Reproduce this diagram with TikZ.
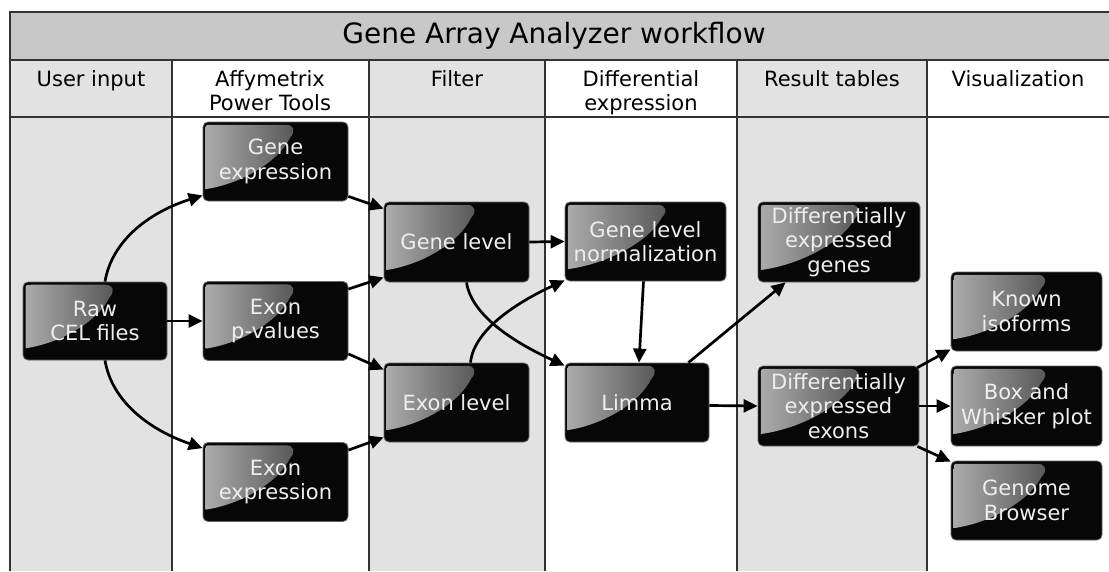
\documentclass[tikz,border=0pt]{standalone}
\usepackage{fontspec}
\setmainfont{DejaVu Sans}
\usetikzlibrary{arrows.meta,calc}
\definecolor{hdr}{HTML}{C8C8C8}
\definecolor{colg}{HTML}{E2E2E2}
\definecolor{frm}{HTML}{333333}
\definecolor{boxfill}{HTML}{070707}
\definecolor{boxtext}{HTML}{EEEEEE}
\newcommand\gp[2]{($(pn)!#1!(pe)+(pn)!#2!(ps)-(pn)$)}
\tikzset{
  frame/.style={draw=frm, line width=1.4pt},
  stepbox/.style={draw=black!60, line width=0.8pt, fill=boxfill, rounded corners=5pt,
    text=boxtext, font=\fontsize{21}{24.5}\selectfont, align=center, inner sep=0pt,
    path picture={
      \coordinate (pn) at (path picture bounding box.north west);
      \coordinate (pe) at (path picture bounding box.north east);
      \coordinate (ps) at (path picture bounding box.south west);
      \shade[sharp corners, left color=black!33, right color=black!66]
        \gp{0.018}{0.85} -- \gp{0.018}{0.1}
        .. controls \gp{0.018}{0.035} .. \gp{0.06}{0.035}
        -- \gp{0.57}{0.035}
        .. controls \gp{0.63}{0.035} and \gp{0.64}{0.12} .. \gp{0.6}{0.2}
        .. controls \gp{0.52}{0.5} and \gp{0.27}{0.78} .. \gp{0.018}{0.85}
        -- cycle;
    }},
  colhead/.style={anchor=north, inner sep=0pt, align=center, font=\fontsize{21}{24.5}\selectfont, text=black},
  arr/.style={-{Triangle[length=14pt,width=13pt]}, line width=2.7pt, draw=black}
}
\begin{document}
\begin{tikzpicture}[x=1pt,y=-1pt]
\useasboundingbox (0,0) rectangle (1109,571);
% background
\fill[colg] (10,60) rectangle (172,571);
\fill[colg] (369,60) rectangle (545,571);
\fill[colg] (737,60) rectangle (927,571);
\fill[hdr] (10,12) rectangle (1109,60);
\draw[frame] (1109,12) -- (10,12) -- (10,571);
\draw[frame] (10,60) -- (1109,60);
\draw[frame] (10,117) -- (1109,117);
\foreach \x in {172,369,545,737,927} \draw[frame] (\x,60) -- (\x,571);
% title and headers
\node[inner sep=0pt, font=\fontsize{28}{32}\selectfont] (title) at (554,36) {Gene Array Analyzer workflow};
\node[colhead] (h1) at (91,70) {User input};
\node[colhead] (h2) at (270,70) {Affymetrix\\Power Tools};
\node[colhead] (h3) at (457,70) {Filter};
\node[colhead] (h4) at (641,70) {Differential\\expression};
\node[colhead] (h5) at (832,70) {Result tables};
\node[colhead] (h6) at (1018,70) {Visualization};
% boxes
\node[stepbox, minimum width=144pt, minimum height=78pt] (raw) at (95,321) {Raw\\CEL files};
\node[stepbox, minimum width=145pt, minimum height=79pt] (gexp) at (275.5,161.5) {Gene\\expression};
\node[stepbox, minimum width=145pt, minimum height=79pt] (pval) at (275.5,321) {Exon\\p-values};
\node[stepbox, minimum width=145pt, minimum height=79pt] (eexp) at (275.5,482) {Exon\\expression};
\node[stepbox, minimum width=145pt, minimum height=80pt] (glev) at (456.5,242) {Gene level};
\node[stepbox, minimum width=145pt, minimum height=79pt] (elev) at (456.5,402.5) {Exon level};
\node[stepbox, minimum width=161pt, minimum height=79pt] (gnorm) at (645.5,241.5) {Gene level\\normalization};
\node[stepbox, minimum width=144pt, minimum height=79pt] (limma) at (637,402.5) {Limma};
\node[stepbox, minimum width=162pt, minimum height=80pt] (dgenes) at (839,242) {Differentially\\expressed\\genes};
\node[stepbox, minimum width=161pt, minimum height=80pt] (dexons) at (838.5,406) {Differentially\\expressed\\exons};
\node[stepbox, minimum width=151pt, minimum height=79pt] (known) at (1026.5,311.5) {Known\\isoforms};
\node[stepbox, minimum width=151pt, minimum height=80pt] (boxw) at (1026.5,406) {Box and\\Whisker plot};
\node[stepbox, minimum width=151pt, minimum height=79pt] (genome) at (1026.5,500.5) {Genome\\Browser};
% connectors
\draw[arr] ($(raw.north)+(10,0)$) .. controls (112,240) and (150,212) .. ($(gexp.south west)+(0,-6)$);
\draw[arr] (raw.east) -- (pval.west);
\draw[arr] ($(raw.south)+(10,0)$) .. controls (112,402) and (150,430) .. ($(eexp.north west)+(0,6)$);
\draw[arr] ($(gexp.south east)+(0,-5)$) -- ($(glev.north west)+(0,7)$);
\draw[arr] ($(pval.north east)+(0,8)$) -- ($(glev.south west)+(0,-5)$);
\draw[arr] ($(pval.south east)+(0,-7)$) -- ($(elev.north west)+(0,7)$);
\draw[arr] ($(eexp.north east)+(0,8)$) -- ($(elev.south west)+(0,-5)$);
\draw[arr] (glev.east) -- (gnorm.west);
\draw[arr] ($(glev.south)+(10,0)$) .. controls (472,318) and (520,345) .. ($(limma.north west)+(0,3)$);
\draw[arr] ($(elev.north)+(14,0)$) .. controls (474,328) and (522,300) .. ($(gnorm.south west)+(0,-1)$);
\draw[arr] ($(gnorm.south)+(-2,0)$) -- ($(limma.north)+(2,0)$);
\draw[arr] ($(limma.north east)+(-21,0)$) -- ($(dgenes.south west)+(28,0)$);
\draw[arr] ($(limma.east)+(0,3)$) -- (dexons.west);
\draw[arr] ($(dexons.north east)+(-2,2)$) -- ($(known.south west)+(0,-2)$);
\draw[arr] (dexons.east) -- (boxw.west);
\draw[arr] ($(dexons.south east)+(-2,0)$) -- ($(genome.north west)+(0,1)$);
\end{tikzpicture}
\end{document}
